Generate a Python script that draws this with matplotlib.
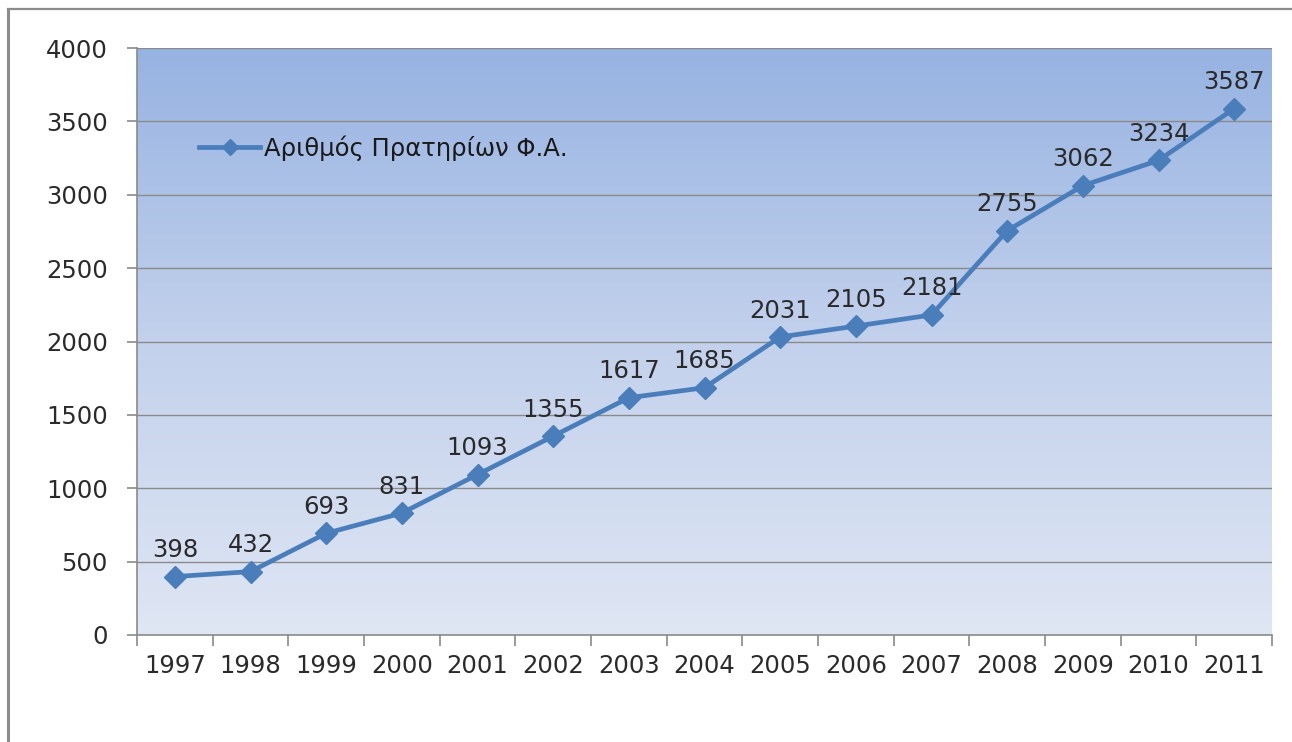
import numpy as np
import matplotlib
matplotlib.use("Agg")
import matplotlib.pyplot as plt
from matplotlib.colors import LinearSegmentedColormap
from matplotlib.lines import Line2D

years = ["1997", "1998", "1999", "2000", "2001", "2002", "2003", "2004",
         "2005", "2006", "2007", "2008", "2009", "2010", "2011"]
stations = [398, 432, 693, 831, 1093, 1355, 1617, 1685,
            2031, 2105, 2181, 2755, 3062, 3234, 3587]
series_name = "Αριθμός Πρατηρίων Φ.Α."
y_ticks = [0, 500, 1000, 1500, 2000, 2500, 3000, 3500, 4000]

plt.rcParams["font.family"] = ["DejaVu Sans"]

W, H, DPI = 1292, 742, 100
fig = plt.figure(figsize=(W / DPI, H / DPI), dpi=DPI)
fig.patch.set_facecolor("white")

# frame lines along the top and left edge
fig.add_artist(Line2D([8 / W, 8 / W], [0, 1 - 9 / H], transform=fig.transFigure,
                      color="#8c8c8c", lw=2.2))
fig.add_artist(Line2D([8 / W, 1], [1 - 9 / H, 1 - 9 / H], transform=fig.transFigure,
                      color="#8c8c8c", lw=1.6))

left, right, top, bottom = 137, 1272, 48, 635
ax = fig.add_axes([left / W, 1 - bottom / H, (right - left) / W, (bottom - top) / H])

x = np.arange(len(years))
xmin, xmax = -0.5, len(years) - 0.5
ymin, ymax = 0, 4000

# vertical gradient background
cmap = LinearSegmentedColormap.from_list("bg", ["#dfe6f4", "#c3d1ec", "#97b3e2"])
grad = np.linspace(0, 1, 256).reshape(-1, 1)
ax.imshow(grad, cmap=cmap, aspect="auto", origin="lower",
          extent=[xmin, xmax, ymin, ymax], zorder=0)

ax.set_xlim(xmin, xmax)
ax.set_ylim(ymin, ymax)

for yv in y_ticks[1:]:
    ax.axhline(yv, color="#8a8a8a", lw=1.0, zorder=1)

ax.plot(x, stations, color="#4a7ebb", lw=3.4, marker="D", markersize=11.5,
        markerfacecolor="#4a7ebb", markeredgecolor="#4a7ebb", zorder=3)

for xi, v in zip(x, stations):
    ax.annotate(str(v), (xi, v), xytext=(0, 14), textcoords="offset points",
                ha="center", va="baseline", fontsize=17.5, color="#2a2a2a", zorder=4)

# axes styling
for side in ("top", "right"):
    ax.spines[side].set_visible(False)
for side in ("left", "bottom"):
    ax.spines[side].set_color("#8a8a8a")
    ax.spines[side].set_linewidth(1.2)

ax.set_yticks(y_ticks)
ax.set_yticklabels([str(t) for t in y_ticks])
ax.tick_params(axis="y", length=7, width=1.2, color="#8a8a8a", pad=14,
               labelsize=17.5, labelcolor="#2a2a2a")

ax.set_xticks(x)
ax.set_xticklabels(years)
ax.set_xticks(np.arange(len(years) + 1) - 0.5, minor=True)
ax.tick_params(axis="x", which="major", length=0, pad=14, labelsize=17.5,
               labelcolor="#2a2a2a")
ax.tick_params(axis="x", which="minor", length=8, width=1.2, color="#8a8a8a")

leg = ax.legend([Line2D([0], [0], color="#4a7ebb", lw=3.4, marker="D",
                        markersize=8, markerfacecolor="#4a7ebb")],
                [series_name], loc="center left", bbox_to_anchor=(0.055, 0.83),
                frameon=False, fontsize=17.5, handlelength=2.5, handletextpad=0.15,
                borderpad=0, borderaxespad=0, labelcolor="#1a1a1a")

fig.savefig("out.png", dpi=DPI)
